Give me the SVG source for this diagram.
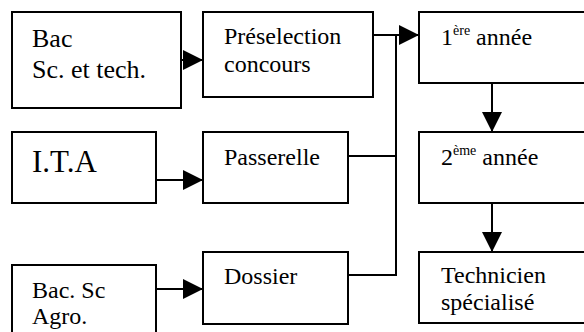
<svg xmlns="http://www.w3.org/2000/svg" width="584" height="332" viewBox="0 0 584 332">
<style>
.box{fill:#fff;stroke:#000;stroke-width:2}
.t{font-family:"Liberation Serif","Times New Roman",serif;font-size:24px;fill:#000}
.sup{font-size:14px}
.c{fill:none;stroke:#000;stroke-width:2}
</style>
<defs>
<marker id="ah" viewBox="0 0 20 20" markerWidth="20" markerHeight="20" refX="20" refY="10" markerUnits="userSpaceOnUse" orient="auto">
<path d="M0,0 L20,10 L0,20 Z" fill="#000"/>
</marker>
</defs>
<rect width="584" height="332" fill="#fff"/>
<g id="connectors">
<line class="c" x1="181" y1="60" x2="203" y2="60" marker-end="url(#ah)"/>
<line class="c" x1="156" y1="180" x2="203" y2="180" marker-end="url(#ah)"/>
<line class="c" x1="156" y1="289" x2="203" y2="289" marker-end="url(#ah)"/>
<line class="c" x1="373" y1="35" x2="419" y2="35" marker-end="url(#ah)"/>
<line class="c" x1="348" y1="156" x2="396" y2="156"/>
<polyline class="c" points="348,275 396,275 396,35"/>
<line class="c" x1="492" y1="83" x2="492" y2="132" marker-end="url(#ah)"/>
<line class="c" x1="492" y1="203" x2="492" y2="252" marker-end="url(#ah)"/>
</g>
<g id="bac-sc-tech">
<rect class="box" x="12" y="12" width="169" height="96"/>
<text class="t" x="32" y="47" style="font-size:26px">Bac</text>
<text class="t" x="32" y="78" style="font-size:26px">Sc. et tech.</text>
</g>
<g id="ita">
<rect class="box" x="12" y="132" width="144" height="71"/>
<text class="t" x="32" y="172" style="font-size:31px">I.T.A</text>
</g>
<g id="bac-sc-agro">
<rect class="box" x="12" y="265" width="144" height="80"/>
<text class="t" x="32" y="298">Bac. Sc</text>
<text class="t" x="32" y="324">Agro.</text>
</g>
<g id="preselection">
<rect class="box" x="203" y="12" width="170" height="85"/>
<text class="t" x="224" y="44">Préselection</text>
<text class="t" x="224" y="72">concours</text>
</g>
<g id="passerelle">
<rect class="box" x="203" y="132" width="145" height="71"/>
<text class="t" x="224" y="165">Passerelle</text>
</g>
<g id="dossier">
<rect class="box" x="203" y="252" width="145" height="72"/>
<text class="t" x="224" y="284">Dossier</text>
</g>
<g id="annee1">
<rect class="box" x="419" y="12" width="180" height="71"/>
<text class="t" x="441" y="45">1<tspan class="sup" dy="-10">ère</tspan><tspan dy="10"> année</tspan></text>
</g>
<g id="annee2">
<rect class="box" x="419" y="132" width="180" height="71"/>
<text class="t" x="441" y="165">2<tspan class="sup" dy="-10">ème</tspan><tspan dy="10"> année</tspan></text>
</g>
<g id="technicien">
<rect class="box" x="419" y="252" width="180" height="71"/>
<text class="t" x="441" y="283">Technicien</text>
<text class="t" x="441" y="310">spécialisé</text>
</g>
</svg>
